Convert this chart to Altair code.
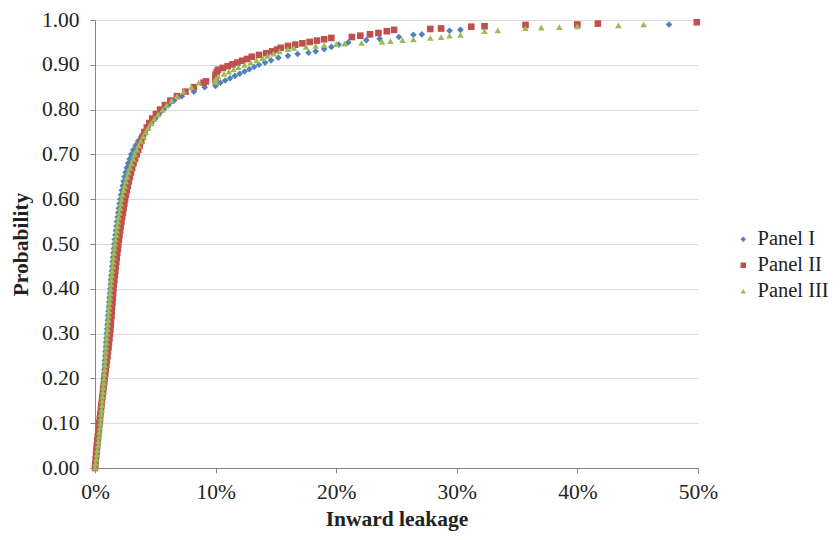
import altair as alt
import pandas as pd

# Panel I (blue diamonds): inward leakage (%) and cumulative probability
p1_x = [0.00, 0.04, 0.09, 0.14, 0.19, 0.24, 0.28, 0.31, 0.35, 0.38,
        0.42, 0.45, 0.48, 0.51, 0.54, 0.57, 0.60, 0.63, 0.66, 0.69,
        0.72, 0.75, 0.77, 0.80, 0.82, 0.85, 0.87, 0.90, 0.92, 0.95,
        0.97, 1.00, 1.03, 1.06, 1.09, 1.12, 1.15, 1.18, 1.21, 1.24,
        1.27, 1.30, 1.33, 1.36, 1.40, 1.43, 1.46, 1.50, 1.53, 1.57,
        1.60, 1.64, 1.69, 1.73, 1.78, 1.83, 1.88, 1.93, 1.98, 2.04,
        2.10, 2.16, 2.22, 2.29, 2.37, 2.45, 2.54, 2.64, 2.75, 2.87,
        3.00, 3.17, 3.36, 3.58, 3.83, 4.10, 4.38, 4.68, 5.00, 5.33,
        5.70, 6.10, 6.55, 7.20, 8.20, 9.10,
        10.0, 10.0, 10.4, 10.8, 11.2, 11.6, 12.0, 12.4, 12.8, 13.2,
        13.6, 14.1, 14.6, 15.2, 16.0, 16.8, 17.7, 18.3, 19.0, 19.6,
        20.2, 21.0, 22.5, 23.6, 25.2, 26.4, 27.1, 29.4, 30.3, 47.6]
p1_y = [0.00, 0.01, 0.02, 0.03, 0.04, 0.05, 0.06, 0.07, 0.08, 0.09,
        0.10, 0.11, 0.12, 0.13, 0.14, 0.15, 0.16, 0.17, 0.18, 0.19,
        0.20, 0.21, 0.22, 0.23, 0.24, 0.25, 0.26, 0.27, 0.28, 0.29,
        0.30, 0.31, 0.32, 0.33, 0.34, 0.35, 0.36, 0.37, 0.38, 0.39,
        0.40, 0.41, 0.42, 0.43, 0.44, 0.45, 0.46, 0.47, 0.48, 0.49,
        0.50, 0.51, 0.52, 0.53, 0.54, 0.55, 0.56, 0.57, 0.58, 0.59,
        0.60, 0.61, 0.62, 0.63, 0.64, 0.65, 0.66, 0.67, 0.68, 0.69,
        0.70, 0.71, 0.72, 0.73, 0.74, 0.75, 0.76, 0.77, 0.78, 0.79,
        0.80, 0.81, 0.82, 0.83, 0.84, 0.85,
        0.853, 0.856, 0.860, 0.865, 0.870, 0.875, 0.880, 0.885, 0.890, 0.895,
        0.900, 0.905, 0.910, 0.916, 0.920, 0.924, 0.927, 0.930, 0.935, 0.940,
        0.945, 0.950, 0.955, 0.958, 0.962, 0.967, 0.968, 0.976, 0.978, 0.990]

# Panel II (red squares)
p2_x = [0.00, 0.03, 0.06, 0.09, 0.12, 0.15, 0.19, 0.23, 0.27, 0.31,
        0.35, 0.40, 0.44, 0.49, 0.53, 0.58, 0.62, 0.67, 0.71, 0.76,
        0.80, 0.85, 0.89, 0.94, 0.98, 1.03, 1.07, 1.12, 1.16, 1.20,
        1.24, 1.27, 1.30, 1.33, 1.36, 1.38, 1.41, 1.44, 1.47, 1.50,
        1.52, 1.56, 1.60, 1.64, 1.68, 1.72, 1.76, 1.80, 1.85, 1.89,
        1.93, 1.98, 2.03, 2.08, 2.13, 2.19, 2.25, 2.31, 2.37, 2.43,
        2.49, 2.56, 2.64, 2.72, 2.80, 2.89, 2.98, 3.08, 3.19, 3.32,
        3.46, 3.58, 3.71, 3.84, 3.97, 4.10, 4.30, 4.50, 4.75, 5.05,
        5.40, 5.80, 6.25, 6.80, 7.50, 8.20, 9.00, 9.20,
        10.0, 10.0, 10.0, 10.1, 10.2, 10.6, 11.0, 11.4, 11.8, 12.2,
        12.6, 13.0, 13.6, 14.2, 14.7, 15.1, 15.4, 16.0, 16.6, 17.2,
        17.8, 18.4, 19.0, 19.6, 21.3, 22.0, 22.8, 23.5, 24.2, 24.8,
        27.8, 28.7, 31.2, 32.3, 35.7, 40.0, 41.7, 49.9]
p2_y = [0.00, 0.01, 0.02, 0.03, 0.04, 0.05, 0.06, 0.07, 0.08, 0.09,
        0.10, 0.11, 0.12, 0.13, 0.14, 0.15, 0.16, 0.17, 0.18, 0.19,
        0.20, 0.21, 0.22, 0.23, 0.24, 0.25, 0.26, 0.27, 0.28, 0.29,
        0.30, 0.31, 0.32, 0.33, 0.34, 0.35, 0.36, 0.37, 0.38, 0.39,
        0.40, 0.41, 0.42, 0.43, 0.44, 0.45, 0.46, 0.47, 0.48, 0.49,
        0.50, 0.51, 0.52, 0.53, 0.54, 0.55, 0.56, 0.57, 0.58, 0.59,
        0.60, 0.61, 0.62, 0.63, 0.64, 0.65, 0.66, 0.67, 0.68, 0.69,
        0.70, 0.71, 0.72, 0.73, 0.74, 0.75, 0.76, 0.77, 0.78, 0.79,
        0.80, 0.81, 0.82, 0.83, 0.84, 0.85, 0.86, 0.863,
        0.866, 0.872, 0.878, 0.884, 0.889, 0.893, 0.897, 0.901, 0.905, 0.909,
        0.913, 0.918, 0.922, 0.926, 0.930, 0.934, 0.938, 0.942, 0.945, 0.948,
        0.951, 0.954, 0.957, 0.960, 0.962, 0.965, 0.968, 0.971, 0.975, 0.978,
        0.980, 0.981, 0.985, 0.986, 0.989, 0.990, 0.992, 0.995]

# Panel III (green triangles)
p3_x = [0.00, 0.05, 0.10, 0.15, 0.20, 0.25, 0.29, 0.33, 0.37, 0.41,
        0.45, 0.48, 0.51, 0.54, 0.57, 0.60, 0.63, 0.66, 0.69, 0.72,
        0.75, 0.77, 0.80, 0.82, 0.85, 0.87, 0.90, 0.92, 0.95, 0.97,
        1.00, 1.03, 1.06, 1.09, 1.12, 1.15, 1.18, 1.21, 1.24, 1.27,
        1.30, 1.33, 1.36, 1.40, 1.43, 1.47, 1.50, 1.54, 1.57, 1.61,
        1.65, 1.70, 1.75, 1.80, 1.85, 1.90, 1.96, 2.02, 2.08, 2.14,
        2.20, 2.28, 2.37, 2.46, 2.56, 2.66, 2.77, 2.89, 3.02, 3.16,
        3.30, 3.45, 3.62, 3.80, 4.00, 4.20, 4.42, 4.66, 4.93, 5.24,
        5.60, 5.95, 6.35, 6.80, 7.35, 8.00, 8.60,
        10.0, 10.0, 10.2, 10.7, 11.1, 11.5, 11.9, 12.4, 12.9, 13.4,
        13.9, 14.3, 14.8, 15.3, 16.0, 16.5, 17.5, 18.3, 19.0, 20.0,
        20.7, 22.1, 23.8, 24.5, 25.5, 26.4, 27.8, 28.7, 29.4, 30.3,
        32.3, 33.4, 35.7, 37.0, 38.5, 40.0, 43.4, 45.5]
p3_y = [0.00, 0.01, 0.02, 0.03, 0.04, 0.05, 0.06, 0.07, 0.08, 0.09,
        0.10, 0.11, 0.12, 0.13, 0.14, 0.15, 0.16, 0.17, 0.18, 0.19,
        0.20, 0.21, 0.22, 0.23, 0.24, 0.25, 0.26, 0.27, 0.28, 0.29,
        0.30, 0.31, 0.32, 0.33, 0.34, 0.35, 0.36, 0.37, 0.38, 0.39,
        0.40, 0.41, 0.42, 0.43, 0.44, 0.45, 0.46, 0.47, 0.48, 0.49,
        0.50, 0.51, 0.52, 0.53, 0.54, 0.55, 0.56, 0.57, 0.58, 0.59,
        0.60, 0.61, 0.62, 0.63, 0.64, 0.65, 0.66, 0.67, 0.68, 0.69,
        0.70, 0.71, 0.72, 0.73, 0.74, 0.75, 0.76, 0.77, 0.78, 0.79,
        0.80, 0.81, 0.82, 0.83, 0.84, 0.85, 0.86,
        0.862, 0.868, 0.874, 0.880, 0.885, 0.890, 0.895, 0.900, 0.905, 0.910,
        0.915, 0.920, 0.925, 0.930, 0.935, 0.938, 0.940, 0.942, 0.944, 0.946,
        0.947, 0.949, 0.951, 0.953, 0.955, 0.957, 0.960, 0.962, 0.965, 0.967,
        0.975, 0.977, 0.982, 0.983, 0.984, 0.986, 0.988, 0.990]

panels = ["Panel I", "Panel II", "Panel III"]
colors = ["#4F81BD", "#C0504D", "#9BBB59"]
shapes = ["diamond", "square", "triangle-up"]

frames = []
for name, xs, ys in [(panels[0], p1_x, p1_y), (panels[1], p2_x, p2_y), (panels[2], p3_x, p3_y)]:
    frames.append(pd.DataFrame({"leak": [v / 100 for v in xs], "prob": ys, "panel": name}))
df = pd.concat(frames, ignore_index=True)
df["order"] = df.index

FONT = "Liberation Serif"
FS = 21.5

chart = alt.Chart(df).mark_point(filled=True, opacity=1, size=44).encode(
    x=alt.X("leak:Q", title="Inward leakage",
            scale=alt.Scale(domain=[0, 0.5], nice=False),
            axis=alt.Axis(format=".0%", values=[0, 0.1, 0.2, 0.3, 0.4, 0.5],
                          grid=False, tickSize=5, labelPadding=8, titlePadding=6,
                          labelFlush=False)),
    y=alt.Y("prob:Q", title="Probability",
            scale=alt.Scale(domain=[0, 1], nice=False),
            axis=alt.Axis(format=".2f", values=[i / 10 for i in range(11)],
                          grid=True, tickSize=5, labelPadding=11, titlePadding=9,
                          labelFlush=False)),
    color=alt.Color("panel:N", scale=alt.Scale(domain=panels, range=colors),
                    legend=alt.Legend(title=None, orient="none", legendX=638, legendY=209,
                                      symbolSize=30, rowPadding=5)),
    shape=alt.Shape("panel:N", scale=alt.Scale(domain=panels, range=shapes)),
    order="order:Q",
).properties(
    width=603, height=448,
    autosize=alt.AutoSizeParams(type="none"),
    padding={"left": 87, "top": 12, "right": 134, "bottom": 66},
).configure_view(stroke=None).configure_axis(
    labelFont=FONT, titleFont=FONT, labelFontSize=FS, titleFontSize=FS,
    labelColor="#222222", titleColor="#222222", titleFontWeight="bold",
    domainColor="#868686", tickColor="#868686", gridColor="#DCDCDC",
).configure_legend(
    labelFont=FONT, labelFontSize=20.5, labelColor="#222222",
)

chart.save("out.html", embed_options={"renderer": "svg", "actions": False})
